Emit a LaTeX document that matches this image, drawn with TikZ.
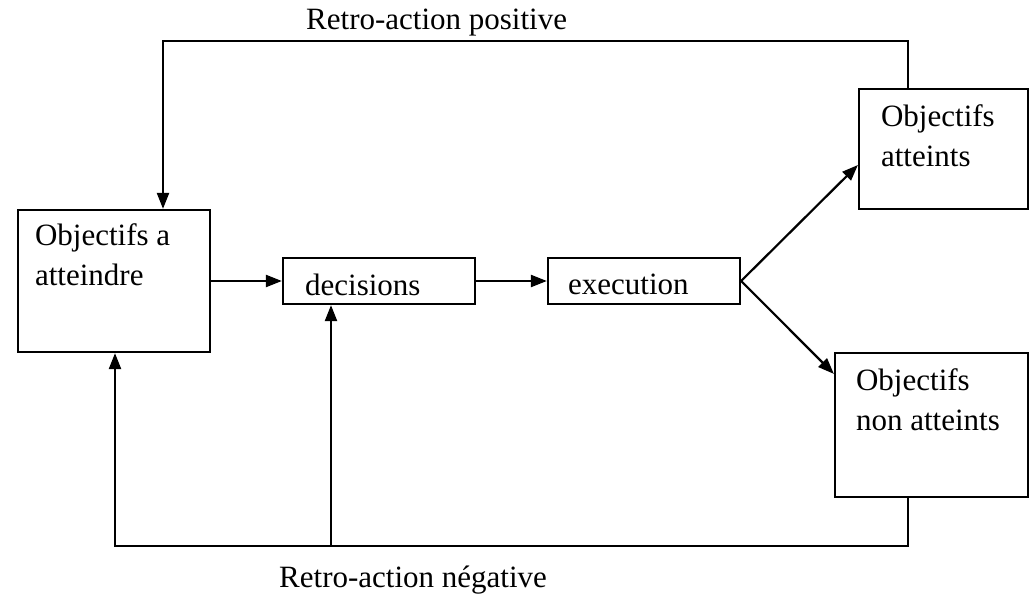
\documentclass[tikz,border=0pt]{standalone}
\usepackage{fontspec}
\setmainfont{Liberation Serif}
\usetikzlibrary{arrows.meta,calc,positioning}
\tikzset{
  bloc/.style={draw, line width=2.2pt, inner sep=0pt},
  texte/.style={inner sep=0pt, align=left, anchor=base west, font=\fontsize{31}{40}\selectfont},
  fleche/.style={line width=2.2pt, -{Triangle[length=16pt,width=12pt]}},
}
\begin{document}
\begin{tikzpicture}[x=1pt,y=-1pt]
\useasboundingbox (0,0) rectangle (1030,594);
% les blocs
\node[bloc, minimum width=192pt, minimum height=142pt] (obj) at (114,281) {};
\node[bloc, minimum width=192pt, minimum height=46pt] (dec) at (379,281) {};
\node[bloc, minimum width=192pt, minimum height=46pt] (exe) at (644,281) {};
\node[bloc, minimum width=169pt, minimum height=120pt] (att) at (943.5,149) {};
\node[bloc, minimum width=193pt, minimum height=144pt] (nonatt) at (931.5,425) {};
% les textes (base = derniere ligne)
\node[texte] (tobj) at ($(obj.north west)+(18,77)$) {Objectifs a\\atteindre};
\node[texte] (tdec) at ($(dec.west)+(23,14)$) {decisions};
\node[texte] (texe) at ($(exe.west)+(21,13)$) {execution};
\node[texte] (tatt) at ($(att.north west)+(23,79)$) {Objectifs\\atteints};
\node[texte] (tnon) at ($(nonatt.north west)+(22,79)$) {Objectifs\\non atteints};
\node[texte] (tpos) at (306,30) {Retro-action positive};
\node[texte] (tneg) at (279,587) {Retro-action négative};
% retro-action positive
\coordinate (hautD) at (908,41);
\coordinate (hautG) at (163,41);
\draw[fleche] (att.north -| hautD) -- (hautD) -- (hautG) -- (hautG |- obj.north);
% retro-action negative
\coordinate (basD) at (908,546);
\coordinate (basG) at (115,546);
\coordinate (basM) at (331,546);
\draw[fleche] (nonatt.south -| basD) -- (basD) -- (basG) -- (basG |- obj.south);
\draw[fleche] (basM) -- (basM |- dec.south);
% chaine principale
\draw[fleche] (obj.east |- dec.west) -- (dec.west);
\draw[fleche] (dec.east) -- (exe.west);
\draw[fleche] (exe.east) -- ($(att.west)+(0,16)$);
\draw[fleche] (exe.east) -- ($(nonatt.north west)+(0,22)$);
\end{tikzpicture}
\end{document}
